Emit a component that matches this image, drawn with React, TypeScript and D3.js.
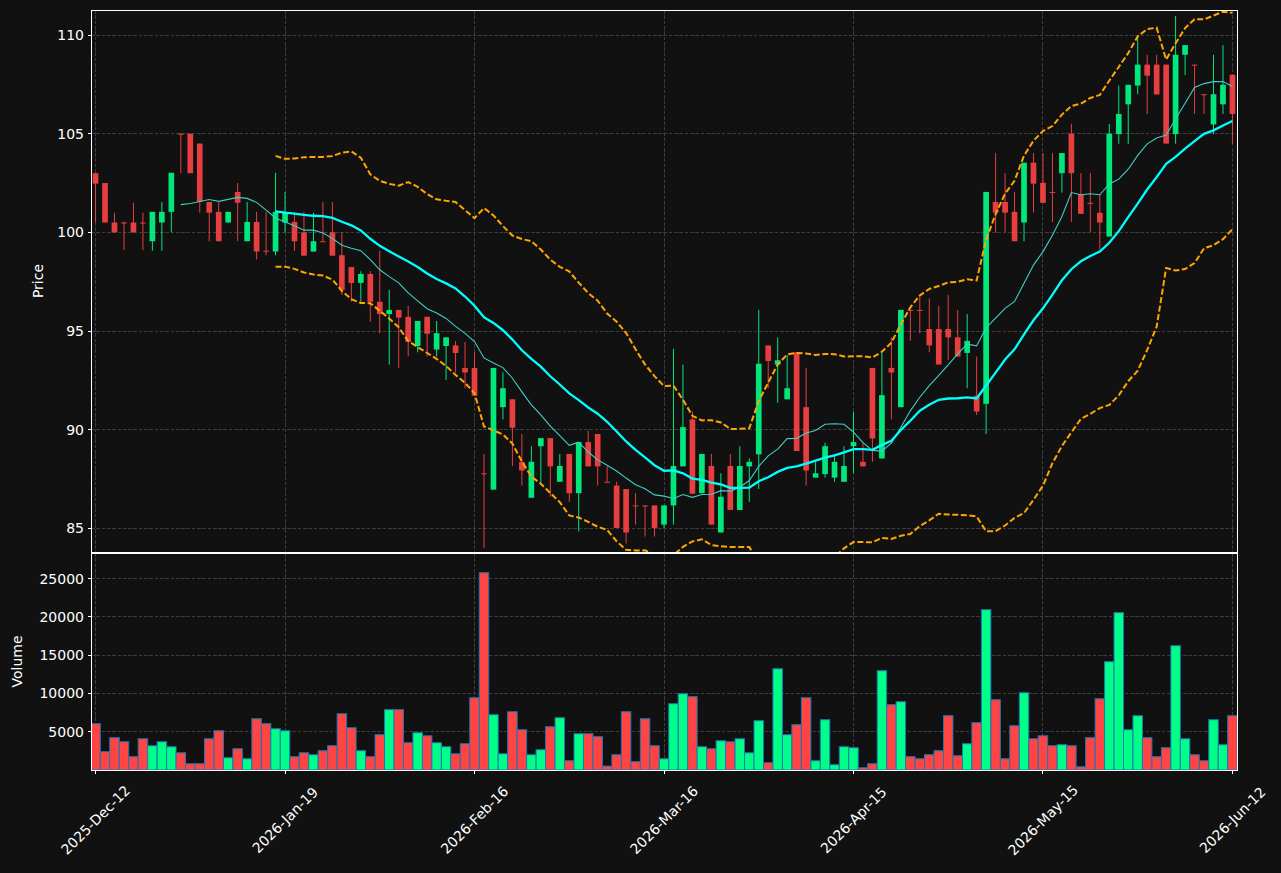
import React from "react";
import * as d3 from "d3";

// daily OHLC (121 sessions)
const opens = [
  103.0, 102.5, 100.5, 100.5, 100.5, 100.5, 99.55, 100.5, 101.04, 105.0,
  105.0, 104.5, 101.54, 101.04, 100.5, 102.05, 99.55, 100.53, 99.07, 99.03,
  100.5, 100.53, 100.0, 99.03, 99.55, 100.0, 98.84, 98.24, 97.44, 97.89,
  96.48, 95.86, 96.07, 95.72, 94.24, 95.72, 94.06, 94.24, 94.27, 93.13,
  93.13, 87.79, 86.96, 91.14, 91.54, 88.37, 86.55, 89.16, 89.57, 87.36,
  88.77, 86.78, 89.37, 89.78, 87.36, 87.17, 86.99, 86.16, 86.16, 86.16,
  85.19, 86.16, 88.14, 90.52, 86.78, 88.16, 84.79, 88.16, 85.93, 88.14,
  88.75, 94.27, 93.3, 91.54, 93.92, 91.14, 87.57, 87.75, 87.57, 87.36,
  89.16, 88.37, 93.13, 88.54, 93.13, 91.14, 96.07, 96.07, 95.1, 95.1,
  95.1, 94.68, 93.89, 91.72, 91.31, 101.54, 101.54, 101.04, 100.5, 103.53,
  102.51, 102.05, 103.0, 105.0, 101.94, 101.5, 100.99, 99.79, 104.98, 106.49,
  107.44, 108.5, 108.5, 108.5, 104.98, 109.0, 108.5, 107.0, 105.47, 106.49,
  107.99,
];
const highs = [
  103.0, 102.5, 101.0, 100.55, 101.5, 101.0, 101.04, 101.54, 103.02, 105.0,
  105.0, 104.5, 101.54, 101.54, 101.04, 102.5, 101.54, 101.04, 101.04, 103.02,
  102.05, 101.0, 101.04, 101.0, 101.54, 101.54, 100.0, 98.24, 98.03, 98.03,
  99.07, 97.08, 96.07, 96.27, 95.51, 95.72, 95.51, 94.68, 94.5, 94.45,
  93.92, 88.77, 93.13, 92.9, 91.54, 89.78, 89.16, 89.57, 89.57, 88.77,
  88.77, 89.37, 89.95, 89.78, 88.14, 87.36, 86.99, 86.78, 86.16, 86.16,
  86.16, 94.1, 93.3, 90.92, 88.77, 88.77, 87.79, 88.77, 89.16, 88.54,
  96.07, 94.27, 94.68, 93.78, 93.92, 93.13, 88.37, 89.34, 88.77, 89.16,
  90.92, 89.34, 93.13, 93.92, 94.68, 96.07, 96.07, 96.83, 96.65, 96.27,
  96.83, 96.07, 95.86, 93.71, 102.05, 104.02, 103.0, 102.05, 103.53, 104.02,
  104.02, 104.02, 104.02, 105.5, 103.0, 103.0, 101.94, 105.5, 107.44, 107.48,
  110.0, 109.0, 109.0, 108.5, 110.97, 109.49, 108.5, 107.0, 109.0, 109.49,
  107.99,
];
const lows = [
  100.5, 100.5, 100.0, 99.1, 100.0, 99.1, 99.07, 99.07, 100.0, 103.0,
  103.0, 101.0, 99.55, 99.55, 100.5, 99.55, 99.55, 98.63, 98.84, 98.84,
  100.0, 99.07, 98.82, 99.03, 99.55, 98.82, 96.83, 96.48, 96.48, 95.47,
  94.89, 93.3, 93.13, 93.71, 93.92, 93.71, 93.71, 92.51, 92.9, 92.1,
  91.72, 84.0, 86.96, 90.52, 88.16, 87.17, 86.55, 87.31, 86.6, 87.36,
  86.34, 84.84, 88.14, 87.17, 87.36, 85.02, 84.23, 85.19, 84.58, 84.58,
  85.02, 85.19, 88.14, 86.75, 86.78, 85.19, 84.79, 85.93, 85.93, 86.34,
  86.99, 92.1, 91.36, 91.54, 88.92, 87.17, 87.57, 87.57, 87.36, 87.36,
  87.79, 88.14, 88.37, 88.54, 90.52, 91.14, 94.5, 94.89, 93.92, 93.3,
  93.52, 93.71, 92.1, 90.74, 89.78, 100.0, 100.0, 99.55, 99.55, 101.0,
  101.5, 100.53, 102.01, 100.53, 100.94, 100.0, 99.12, 99.79, 104.49, 104.49,
  107.0, 106.0, 106.99, 104.5, 104.49, 107.97, 106.0, 106.0, 104.98, 106.0,
  104.49,
];
const closes = [
  102.47, 100.5, 100.0, 100.5, 100.0, 100.5, 101.04, 101.04, 103.02, 105.0,
  103.0, 101.54, 101.0, 99.55, 101.04, 101.5, 100.53, 99.03, 99.07, 101.04,
  101.0, 99.55, 98.82, 99.55, 99.55, 98.82, 97.08, 97.44, 97.89, 96.48,
  95.86, 96.07, 95.68, 94.45, 95.51, 94.86, 94.89, 94.68, 93.89, 92.9,
  91.72, 87.79, 93.13, 92.1, 90.1, 87.93, 88.37, 89.57, 88.14, 88.16,
  86.78, 89.37, 88.14, 88.14, 87.36, 85.02, 84.79, 86.16, 86.16, 85.02,
  86.16, 88.16, 90.13, 86.75, 88.77, 85.19, 86.6, 85.93, 88.16, 88.37,
  93.34, 93.48, 93.52, 92.1, 88.92, 87.93, 87.79, 89.16, 88.37, 88.16,
  89.37, 88.14, 89.55, 91.75, 92.9, 96.07, 96.07, 96.07, 94.27, 93.3,
  94.68, 93.71, 94.5, 90.92, 102.05, 101.0, 101.0, 99.55, 103.53, 102.47,
  101.5, 102.05, 104.02, 103.0, 100.94, 101.5, 100.5, 105.0, 106.0, 107.48,
  108.5, 107.94, 106.99, 104.5, 109.0, 109.49, 108.5, 107.0, 107.0, 107.48,
  106.0,
];
const volumes = [
  6050, 2390, 4220, 3690, 1740, 4080, 3170, 3690, 3040, 2250,
  820, 820, 4080, 5130, 1600, 2780, 1470, 6700, 6050, 5390,
  5130, 1740, 2250, 1990, 2520, 3170, 7350, 5520, 2520, 1740,
  4610, 7880, 7880, 3560, 4870, 4470, 3560, 3040, 2120, 3430,
  9440, 25780, 7220, 2120, 7610, 5260, 1990, 2650, 5650, 6830,
  1210, 4740, 4740, 4350, 510, 1990, 7610, 1080, 6700, 3170,
  1470, 8660, 9970, 9580, 3040, 2780, 3820, 3690, 4080, 2250,
  6440, 950, 13230, 4610, 5920, 9440, 1210, 6570, 690, 3040,
  2910, 290, 820, 12970, 8530, 8920, 1740, 1470, 1990, 2520,
  7090, 1860, 3430, 6180, 20950, 9180, 1470, 5780, 10100, 4080,
  4470, 3170, 3300, 3170, 420, 4220, 9310, 14150, 20560, 5260,
  7090, 4220, 1740, 2910, 16240, 4080, 1990, 1210, 6570, 3300,
  7090,
];

const dateTickIdx = [0, 20, 40, 60, 80, 100, 120];
const dateTickLabels = [
  "2025-Dec-12", "2026-Jan-19", "2026-Feb-16", "2026-Mar-16",
  "2026-Apr-15", "2026-May-15", "2026-Jun-12",
];
const priceTicks = [85, 90, 95, 100, 105, 110];
const volumeTicks = [5000, 10000, 15000, 20000, 25000];

const rolling = (arr: number[], n: number, fn: (w: number[]) => number) =>
  arr.map((_, i) => (i < n - 1 ? null : fn(arr.slice(i - n + 1, i + 1))));

const mean = (w: number[]) => d3.mean(w) as number;
const pstd = (w: number[]) => {
  const m = mean(w);
  return Math.sqrt(d3.mean(w, (v) => (v - m) * (v - m)) as number);
};

const BG = "#111111";
const UP = "#00ff88";
const DOWN = "#ff4444";
const FONT = "DejaVu Sans, sans-serif";

export default function App() {
  const W = 1281, H = 873;
  const L = 91, R = 1237;
  const pTop = 10, pBot = 552, vTop = 553, vBot = 770;
  const n = closes.length;

  const x = d3.scaleLinear().domain([-0.48, n - 1 + 0.48]).range([L, R]);
  const step = x(1) - x(0);
  const yP = d3.scaleLinear().domain([83.8, 111.27]).range([pBot, pTop]);
  const yV = d3.scaleLinear().domain([0, (d3.max(volumes) as number) * 1.1]).range([vBot, vTop]);

  const ma10 = rolling(closes, 10, mean);
  const ma20 = rolling(closes, 20, mean);
  const sd20 = rolling(closes, 20, pstd);
  const upper = ma20.map((m, i) => (m === null ? null : m + 2 * (sd20[i] as number)));
  const lower = ma20.map((m, i) => (m === null ? null : m - 2 * (sd20[i] as number)));

  const line = d3
    .line<number | null>()
    .defined((d) => d !== null)
    .x((_, i) => x(i))
    .y((d) => yP(d as number));

  const bw = step * 0.6;

  return (
    <svg width={W} height={H} style={{ position: "absolute", left: 0, top: 0, background: BG }}>
      <rect x={0} y={0} width={W} height={H} fill={BG} />
      <defs>
        <clipPath id="pclip">
          <rect x={L} y={pTop} width={R - L} height={pBot - pTop} />
        </clipPath>
        <clipPath id="vclip">
          <rect x={L} y={vTop} width={R - L} height={vBot - vTop} />
        </clipPath>
      </defs>

      {/* grids */}
      <g stroke="#444" strokeWidth={1} strokeDasharray="3.7,1.6" opacity={0.85} shapeRendering="crispEdges">
        {priceTicks.map((t) => (
          <line key={"pg" + t} x1={L} x2={R} y1={yP(t)} y2={yP(t)} />
        ))}
        {volumeTicks.map((t) => (
          <line key={"vg" + t} x1={L} x2={R} y1={yV(t)} y2={yV(t)} />
        ))}
        {dateTickIdx.map((t) => (
          <g key={"xg" + t}>
            <line x1={x(t)} x2={x(t)} y1={pTop} y2={pBot} />
            <line x1={x(t)} x2={x(t)} y1={vTop} y2={vBot} />
          </g>
        ))}
      </g>

      {/* candles */}
      <g clipPath="url(#pclip)" opacity={0.9}>
        {closes.map((c, i) => {
          const o = opens[i];
          const col = c > o ? UP : DOWN;
          const top = yP(Math.max(o, c));
          const h = Math.max(1, Math.abs(yP(o) - yP(c)));
          return (
            <g key={"c" + i}>
              <line x1={x(i)} x2={x(i)} y1={yP(highs[i])} y2={yP(lows[i])} stroke={col} strokeWidth={1} />
              <rect x={x(i) - bw / 2} y={top} width={bw} height={h} fill={col} />
            </g>
          );
        })}
      </g>

      {/* indicators */}
      <g clipPath="url(#pclip)" fill="none">
        <path d={line(upper) || ""} stroke="#ffa500" strokeWidth={2} strokeDasharray="6,2.6" />
        <path d={line(lower) || ""} stroke="#ffa500" strokeWidth={2} strokeDasharray="6,2.6" />
        <path d={line(ma10) || ""} stroke="#3fcfc4" strokeWidth={1.1} />
        <path d={line(ma20) || ""} stroke="#00ffff" strokeWidth={2.3} />
      </g>

      {/* volume */}
      <g clipPath="url(#vclip)">
        {volumes.map((v, i) => (
          <rect
            key={"v" + i}
            x={x(i) - step / 2}
            y={yV(v)}
            width={step}
            height={vBot - yV(v)}
            fill={closes[i] > opens[i] ? UP : DOWN}
            stroke="#1f77b4"
            strokeWidth={1}
          />
        ))}
      </g>

      {/* frames */}
      <g fill="none" stroke="white" strokeWidth={1} shapeRendering="crispEdges">
        <rect x={L} y={pTop} width={R - L} height={pBot - pTop} />
        <rect x={L} y={vTop} width={R - L} height={vBot - vTop} />
      </g>

      {/* axes */}
      <g fontFamily={FONT} fontSize={14} fill="white">
        {priceTicks.map((t) => (
          <g key={"pt" + t}>
            <line x1={L - 3.5} x2={L} y1={yP(t)} y2={yP(t)} stroke="white" strokeWidth={1} shapeRendering="crispEdges" />
            <text x={L - 7} y={yP(t)} textAnchor="end" dominantBaseline="central">
              {t}
            </text>
          </g>
        ))}
        <text transform={`translate(38,${(pTop + pBot) / 2}) rotate(-90)`} textAnchor="middle" dominantBaseline="central">
          Price
        </text>
        {volumeTicks.map((t) => (
          <g key={"vt" + t}>
            <line x1={L - 3.5} x2={L} y1={yV(t)} y2={yV(t)} stroke="white" strokeWidth={1} shapeRendering="crispEdges" />
            <text x={L - 7} y={yV(t)} textAnchor="end" dominantBaseline="central">
              {t}
            </text>
          </g>
        ))}
        <text transform={`translate(17,${(vTop + vBot) / 2}) rotate(-90)`} textAnchor="middle" dominantBaseline="central">
          Volume
        </text>
        {dateTickIdx.map((t, k) => (
          <g key={"xt" + t}>
            <line x1={x(t)} x2={x(t)} y1={vBot} y2={vBot + 3.5} stroke="white" strokeWidth={1} shapeRendering="crispEdges" />
            <text
              transform={`translate(${x(t)},${vBot + 50}) rotate(-45)`}
              textAnchor="middle"
              dominantBaseline="central"
            >
              {dateTickLabels[k]}
            </text>
          </g>
        ))}
      </g>
    </svg>
  );
}
